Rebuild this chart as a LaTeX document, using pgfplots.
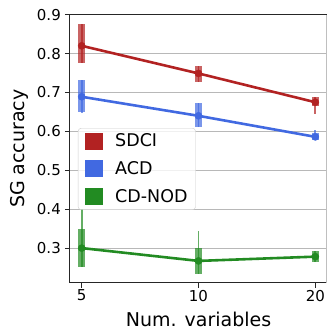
\documentclass[border=0pt]{standalone}
\usepackage{fontspec}
\setmainfont{DejaVu Sans}
\usepackage{pgfplots}
\pgfplotsset{compat=1.18}
\definecolor{sdci}{RGB}{178,34,34}
\definecolor{acd}{RGB}{65,105,225}
\definecolor{cdnod}{RGB}{34,139,34}
\begin{document}
\begin{tikzpicture}
\begin{axis}[
 at={(0,0)}, anchor=south west,
 scale only axis, width=257pt, height=268pt,
 xmin=-0.1, xmax=2.1, ymin=0.211, ymax=0.9,
 xtick={0,1,2}, xticklabels={5,10,20},
 ytick={0.3,0.4,0.5,0.6,0.7,0.8,0.9},
 /pgf/number format/assume math mode=true,
 ymajorgrids, grid style={color=black!28, line width=0.8pt},
 tick align=outside, tick pos=left, major tick length=5pt,
 tick style={black!85, line width=0.8pt},
 axis line style={black!85, line width=1pt},
 ticklabel style={font=\fontsize{15}{18}\selectfont, inner sep=2pt},
 yticklabel style={xshift=-2pt, /pgf/number format/.cd, fixed, fixed zerofill, precision=1},
 label style={font=\fontsize{19}{22}\selectfont},
 xlabel={Num. variables}, ylabel={SG accuracy},
 xlabel style={at={(axis description cs:0.5,-0.164)}, anchor=base},
 ylabel style={at={(axis description cs:-0.178,0.5)}, anchor=base},
 legend style={at={(0.031,0.577)}, anchor=north west, draw=black!20, rounded corners=3pt,
   fill=white, fill opacity=0.8, text opacity=1, font=\fontsize{17.5}{20}\selectfont,
   row sep=9.5pt, inner xsep=6pt, inner ysep=3.5pt},
 legend cell align=left,
 legend image code/.code={\fill[#1, draw=none, fill opacity=1, sharp corners] (1pt,-8.5pt) rectangle (19pt,8.5pt); \path[draw=none, fill=none] (0pt,0pt) -- (29pt,0pt);},
]
% --- SDCI ---
\addplot[draw=none, forget plot, error bars/.cd, y dir=both, y explicit, error mark=none,
  error bar style={line width=1.8pt, sdci, opacity=0.7}]
 coordinates {(0,0.820) += (0,0.055) -= (0,0.043)
              (1,0.749) += (0,0.019) -= (0,0.021)
              (2,0.675) += (0,0.013) -= (0,0.031)};
\addplot[draw=none, forget plot, error bars/.cd, y dir=both, y explicit, error mark=none,
  error bar style={line width=7pt, sdci, opacity=0.7}]
 coordinates {(0,0.820) += (0,0.055) -= (0,0.043)
              (1,0.749) += (0,0.019) -= (0,0.021)
              (2,0.675) += (0,0.013) -= (0,0.010)};
\addplot[sdci, line width=2.6pt, mark=*, mark size=3.6pt, mark options={line width=0.4pt}, forget plot]
 coordinates {(0,0.820) (1,0.749) (2,0.675)};
% --- ACD ---
\addplot[draw=none, forget plot, error bars/.cd, y dir=both, y explicit, error mark=none,
  error bar style={line width=1.8pt, acd, opacity=0.7}]
 coordinates {(0,0.689) += (0,0.042) -= (0,0.041)
              (1,0.640) += (0,0.032) -= (0,0.029)
              (2,0.586) += (0,0.018) -= (0,0.009)};
\addplot[draw=none, forget plot, error bars/.cd, y dir=both, y explicit, error mark=none,
  error bar style={line width=7pt, acd, opacity=0.7}]
 coordinates {(0,0.689) += (0,0.042) -= (0,0.038)
              (1,0.640) += (0,0.032) -= (0,0.029)
              (2,0.586) += (0,0.009) -= (0,0.009)};
\addplot[acd, line width=2.6pt, mark=*, mark size=3.6pt, mark options={line width=0.4pt}, forget plot]
 coordinates {(0,0.689) (1,0.640) (2,0.586)};
% --- CD-NOD ---
\addplot[draw=none, forget plot, error bars/.cd, y dir=both, y explicit, error mark=none,
  error bar style={line width=1.8pt, cdnod, opacity=0.7}]
 coordinates {(0,0.300) += (0,0.100) -= (0,0.049)
              (1,0.267) += (0,0.077) -= (0,0.034)
              (2,0.278) += (0,0.015) -= (0,0.015)};
\addplot[draw=none, forget plot, error bars/.cd, y dir=both, y explicit, error mark=none,
  error bar style={line width=7pt, cdnod, opacity=0.7}]
 coordinates {(0,0.300) += (0,0.049) -= (0,0.049)
              (1,0.267) += (0,0.033) -= (0,0.034)
              (2,0.278) += (0,0.015) -= (0,0.015)};
\addplot[cdnod, line width=2.6pt, mark=*, mark size=3.6pt, mark options={line width=0.4pt}, forget plot]
 coordinates {(0,0.300) (1,0.267) (2,0.278)};
\addlegendimage{sdci}\addlegendentry{SDCI}
\addlegendimage{acd}\addlegendentry{ACD}
\addlegendimage{cdnod}\addlegendentry{CD-NOD}
\draw[black!25, line width=1pt] (rel axis cs:1,0) -- (rel axis cs:1,1);
\end{axis}
\pgfresetboundingbox
\path[use as bounding box] (-70pt,-47.3pt) rectangle (258pt,282.7pt);
\end{tikzpicture}
\end{document}
